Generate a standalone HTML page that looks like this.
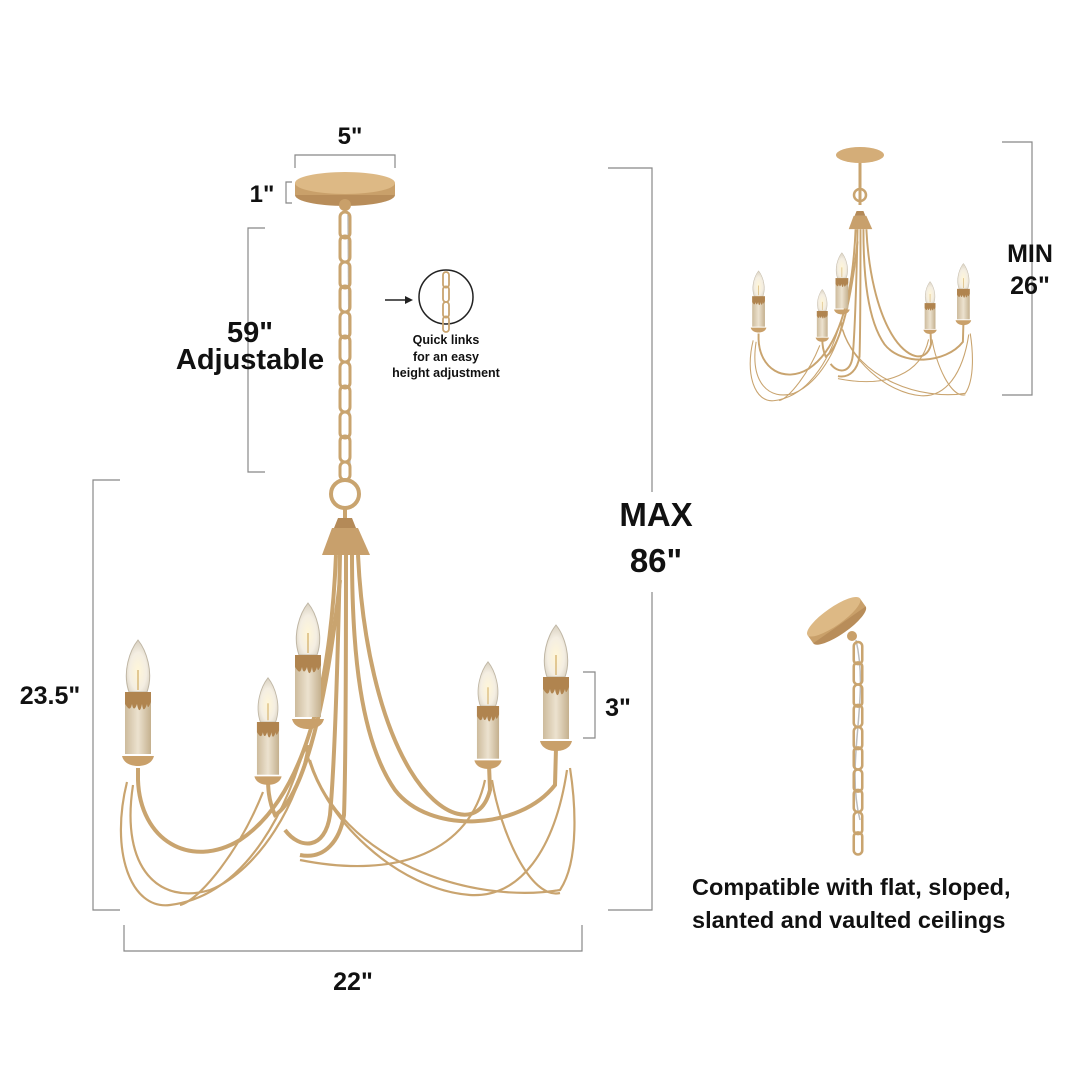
<!DOCTYPE html>
<html><head><meta charset="utf-8"><style>
html,body{margin:0;padding:0;background:#fff;}
svg{display:block}
text{font-family:"Liberation Sans",Arial,sans-serif;font-weight:bold;fill:#111}
</style></head><body>
<svg width="1080" height="1080" viewBox="0 0 1080 1080" xmlns="http://www.w3.org/2000/svg">
<defs>
<linearGradient id="wax" x1="0" x2="1"><stop offset="0" stop-color="#cdbb9c"/><stop offset="0.5" stop-color="#ece2cf"/><stop offset="1" stop-color="#c4b08e"/></linearGradient>
<radialGradient id="bulb" cx="0.5" cy="0.6" r="0.6"><stop offset="0" stop-color="#fff6d8"/><stop offset="0.6" stop-color="#f4eee2"/><stop offset="1" stop-color="#d8d0c0"/></radialGradient>
<g id="candleBig">
  <path d="M-9,0 C-16,-20 -8,-42 0,-52 C8,-42 16,-20 9,0 Z" fill="url(#bulb)" stroke="#bfb6a4" stroke-width="1"/>
  <line x1="0" y1="-2" x2="0" y2="-22" stroke="#d9b97a" stroke-width="1.5"/>
  <rect x="-13" y="0" width="26" height="62" fill="url(#wax)"/>
  <path d="M-13,0 h26 v10 c-2,4 -3,8 -4,2 c-2,6 -4,8 -5,0 c-2,10 -4,6 -5,0 c-2,6 -4,6 -5,0 c-2,8 -4,4 -7,0 z" fill="#b0844f"/>
  <path d="M-16,64 h32 c-2,8 -10,10 -16,10 c-6,0 -14,-2 -16,-10z" fill="#c9a06a"/>
</g>
<g id="chand" fill="none">
  <path d="M322,555 L332,528 L358,528 L370,555 Z" fill="#c8a06c"/>
  <path d="M334,528 L356,528 L352,518 L338,518 Z" fill="#b48a58"/>
  <g stroke="#c9a46f" stroke-width="4">
    <path d="M340,555 C338,650 335,760 330,815 C325,850 300,850 285,830"/>
    <path d="M346,555 C346,650 346,760 344,815 C340,840 325,860 300,855"/>
    <path d="M352,555 C352,650 360,740 395,790 C430,835 520,830 555,785 L556,748"/>
    <path d="M358,555 C362,640 380,720 410,770 C440,820 480,830 490,790 L489,765"/>
    <path d="M336,555 C330,700 300,800 240,840 C190,870 140,840 138,780 L138,768"/>
    <path d="M340,580 C325,720 300,800 275,815 C268,800 268,785 268,778"/>
  </g>
  <g stroke="#c9a46f" stroke-width="2.2">
    <path d="M127,782 C110,850 130,910 170,905 C250,895 290,800 305,745"/>
    <path d="M133,785 C120,870 160,905 210,890 C260,870 300,800 308,745"/>
    <path d="M263,792 C240,850 200,900 180,905"/>
    <path d="M305,745 C320,820 400,890 470,895 C520,898 555,850 567,770"/>
    <path d="M310,760 C340,860 470,905 560,890 C580,860 575,800 570,768"/>
    <path d="M492,780 C500,830 530,900 560,893"/>
    <path d="M485,780 C470,850 400,880 300,860"/>
  </g>
  <use href="#candleBig" x="138" y="692"/>
  <use href="#candleBig" x="268" y="722" transform="translate(268 722) scale(0.85) translate(-268 -722)"/>
  <use href="#candleBig" x="308" y="655"/>
  <use href="#candleBig" x="488" y="706" transform="translate(488 706) scale(0.85) translate(-488 -706)"/>
  <use href="#candleBig" x="556" y="677"/>
</g>
<g id="chain" fill="none" stroke="#c9a46f" stroke-width="3">
  <rect x="-5" y="0" width="10" height="26" rx="5"/>
  <rect x="-5" y="24" width="10" height="26" rx="5"/>
</g>
</defs>

<g stroke="#888" stroke-width="1.2" fill="none">
  <path d="M295,168 V155 H395 V168"/>
  <path d="M292,182 H286 V203 H292"/>
  <path d="M265,228 H248 V472 H265"/>
  <path d="M608,168 H652 V492 M652,592 V910 H608"/>
  <path d="M120,480 H93 V910 H120"/>
  <path d="M124,925 V951 H582 V925"/>
  <path d="M583,672 H595 V738 H583"/>
  <path d="M1002,142 H1032 V395 H1002"/>
</g>

<ellipse cx="345" cy="195" rx="50" ry="11" fill="#b88d5a"/>
<rect x="295" y="183" width="100" height="12" fill="#c9a06a"/>
<ellipse cx="345" cy="183" rx="50" ry="11" fill="#ddb985"/>
<circle cx="345" cy="205" r="6" fill="#c9a06a"/>
<line x1="348" y1="215" x2="350" y2="470" stroke="#bbb" stroke-width="1.5"/>
<use href="#chain" x="345" y="212"/>
<use href="#chain" x="345" y="262"/>
<use href="#chain" x="345" y="312"/>
<use href="#chain" x="345" y="362"/>
<use href="#chain" x="345" y="412"/>
<rect x="340" y="462" width="10" height="18" rx="5" fill="none" stroke="#c9a46f" stroke-width="3"/>
<circle cx="345" cy="494" r="14" fill="none" stroke="#c9a46f" stroke-width="4"/>
<line x1="345" y1="508" x2="345" y2="520" stroke="#c9a46f" stroke-width="4"/>
<use href="#chand"/>

<circle cx="446" cy="297" r="27" fill="#fff" stroke="#222" stroke-width="1.5"/>
<g transform="translate(446 272) scale(0.6)"><use href="#chain" x="0" y="0"/><use href="#chain" x="0" y="50"/></g>
<line x1="385" y1="300" x2="408" y2="300" stroke="#222" stroke-width="1.5"/>
<path d="M413,300 L405,296 L405,304 Z" fill="#222"/>
<text x="446" y="344" font-size="12.5" text-anchor="middle">Quick links</text>
<text x="446" y="361" font-size="12.5" text-anchor="middle">for an easy</text>
<text x="446" y="377" font-size="12.5" text-anchor="middle">height adjustment</text>

<ellipse cx="860" cy="155" rx="24" ry="8" fill="#d4ad78"/>
<line x1="860" y1="163" x2="860" y2="205" stroke="#c9a46f" stroke-width="3"/>
<circle cx="860" cy="195" r="6" fill="none" stroke="#c9a46f" stroke-width="2.5"/>
<g transform="translate(860 212) scale(0.49) translate(-345 -520)"><use href="#chand"/></g>

<g transform="rotate(-35 836 620)">
<ellipse cx="836" cy="626" rx="32" ry="9" fill="#b88d5a"/>
<rect x="804" y="616" width="64" height="10" fill="#c9a06a"/>
<ellipse cx="836" cy="616" rx="32" ry="9" fill="#ddb985"/>
</g>
<circle cx="852" cy="636" r="5" fill="#c9a06a"/>
<path d="M856,640 C870,700 845,760 860,820" stroke="#bbb" stroke-width="1.5" fill="none"/>
<g transform="translate(858 642) scale(0.85)">
<use href="#chain" x="0" y="0"/><use href="#chain" x="0" y="50"/><use href="#chain" x="0" y="100"/><use href="#chain" x="0" y="150"/><use href="#chain" x="0" y="200"/>
</g>

<text x="350" y="144" font-size="24" text-anchor="middle">5"</text>
<text x="262" y="202" font-size="24" text-anchor="middle">1"</text>
<text x="250" y="342" font-size="29" text-anchor="middle">59"</text>
<text x="250" y="369" font-size="29" text-anchor="middle">Adjustable</text>
<text x="656" y="526" font-size="33" text-anchor="middle">MAX</text>
<text x="656" y="572" font-size="33" text-anchor="middle">86"</text>
<text x="50" y="704" font-size="25" text-anchor="middle">23.5"</text>
<text x="618" y="716" font-size="25" text-anchor="middle">3"</text>
<text x="353" y="990" font-size="25" text-anchor="middle">22"</text>
<text x="1030" y="262" font-size="25" text-anchor="middle">MIN</text>
<text x="1030" y="294" font-size="25" text-anchor="middle">26"</text>
<text x="692" y="895" font-size="23.5">Compatible with flat, sloped,</text>
<text x="692" y="928" font-size="23.5">slanted and vaulted ceilings</text>
</svg>
</body></html>
